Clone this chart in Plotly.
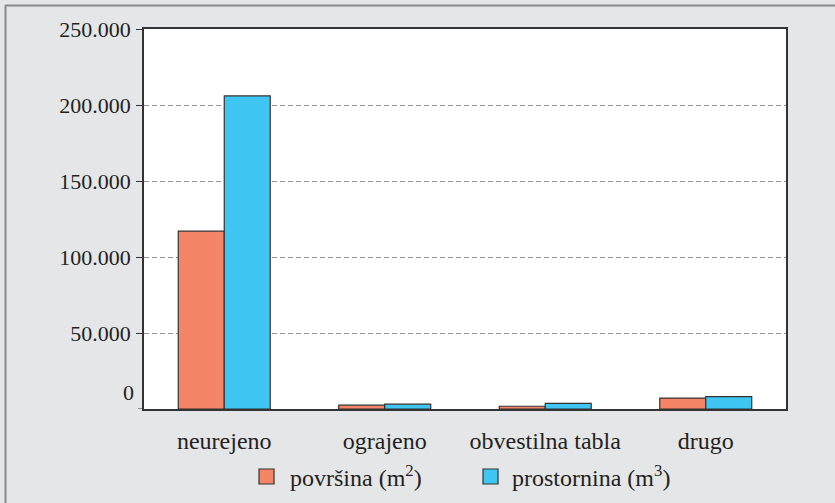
import plotly.graph_objects as go

# Categories and series values
categories = ["neurejeno", "ograjeno", "obvestilna tabla", "drugo"]
povrsina = [117000, 2500, 1800, 7200]       # m2
prostornina = [206000, 3200, 3700, 8100]    # m3

y_ticks = [50000, 100000, 150000, 200000, 250000]
y_tick_text = ["50.000", "100.000", "150.000", "200.000", "250.000"]

series_names = ["površina (m<sup>2</sup>)", "prostornina (m<sup>3</sup>)"]
colors = ["#f58567", "#40c6f2"]

FONT = "Liberation Serif, Times New Roman, serif"
TEXT = "#231f20"
BG = "#e5e6e8"

W, H = 835, 503
L, R, T, B = 144, 49, 29, 94
PW, PH = W - L - R, H - T - B


def px(x):
    return (x - L) / PW


def py(y):
    return (H - B - y) / PH


fig = go.Figure()
for vals, name, col in zip([povrsina, prostornina], series_names, colors):
    fig.add_trace(go.Bar(
        x=categories, y=vals, name=name,
        marker=dict(color=col, line=dict(color="#333333", width=1.2)),
        showlegend=False,
    ))

fig.update_layout(
    width=W, height=H,
    margin=dict(l=L, r=R, t=T, b=B),
    paper_bgcolor=BG, plot_bgcolor="white",
    barmode="group", bargap=0.427, bargroupgap=0,
    font=dict(family=FONT, size=22, color=TEXT),
    showlegend=False,
)

fig.update_yaxes(
    range=[0, 250000], tickvals=y_ticks, ticktext=y_tick_text,
    showline=True, linecolor="#333333", linewidth=1.5, mirror=True,
    ticks="outside", ticklen=6, tickcolor="#333333", tickwidth=1,
    showgrid=True, gridcolor="#9a9a9a", griddash="5px,3px", gridwidth=1,
    zeroline=False, ticklabelstandoff=1,
)
fig.update_xaxes(
    showline=True, linecolor="#333333", linewidth=1.5, mirror=True,
    ticks="", ticklabelstandoff=9, showgrid=False,
    tickfont=dict(size=24),
)

# Tick mark at zero and its label, which sits slightly above the baseline
fig.add_shape(type="line", xref="paper", yref="y",
              x0=px(L - 6), x1=0, y0=0, y1=0,
              line=dict(color="#333333", width=1))
fig.add_annotation(
    x=0, xref="paper", xanchor="right", xshift=-8,
    y=0, yref="y", yanchor="middle", yshift=17,
    text="0", showarrow=False, font=dict(size=22, color=TEXT),
)

# Legend drawn below the axis
legend_items = [(259, 288), (483, 510)]
for (sx, tx), name, col in zip(legend_items, series_names, colors):
    fig.add_shape(
        type="rect", xref="paper", yref="paper",
        x0=px(sx), x1=px(sx + 15), y0=py(469), y1=py(484),
        fillcolor=col, line=dict(color="#333333", width=1.2),
    )
    fig.add_annotation(
        x=px(tx), xref="paper", xanchor="left",
        y=py(476), yref="paper", yanchor="middle",
        text=name, showarrow=False, font=dict(size=24, color=TEXT),
    )

# Frame lines along top and left edge of the figure
fig.add_shape(type="line", xref="paper", yref="paper",
              x0=px(5), x1=px(W), y0=py(5.5), y1=py(5.5),
              line=dict(color="#8a8a8c", width=2))
fig.add_shape(type="line", xref="paper", yref="paper",
              x0=px(5.5), x1=px(5.5), y0=py(5), y1=py(H),
              line=dict(color="#8a8a8c", width=2))

fig.write_html("out.html")
